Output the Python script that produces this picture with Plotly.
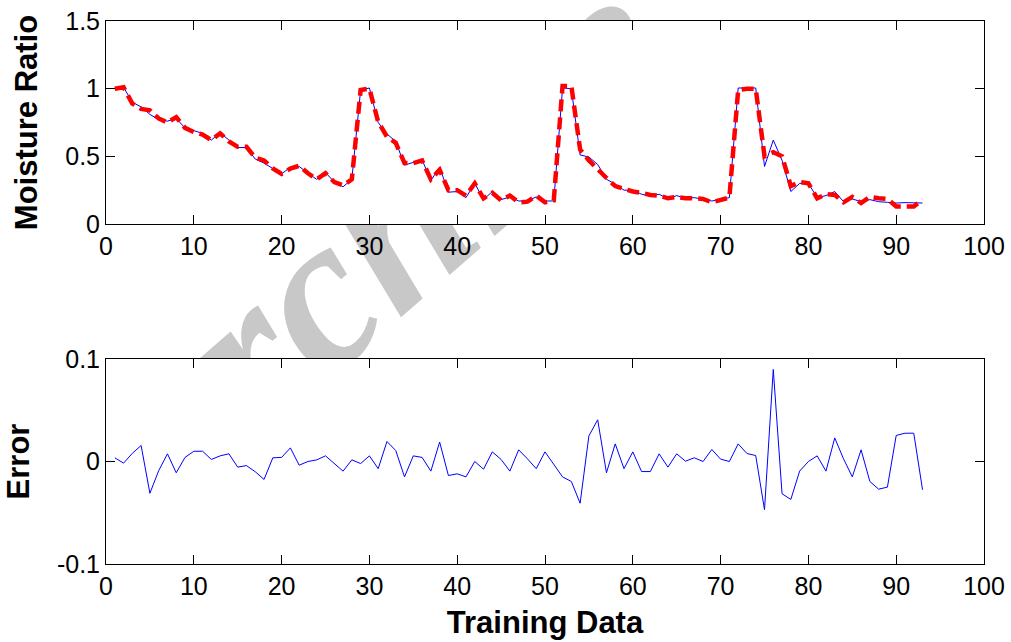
import plotly.graph_objects as go

# ---------------- data ----------------
sample = list(range(1, 94))

predicted = [1.00, 1.01, 0.89, 0.85, 0.84, 0.78, 0.75, 0.79, 0.71, 0.68,
             0.66, 0.62, 0.67, 0.61, 0.57, 0.57, 0.49, 0.47, 0.41, 0.37,
             0.41, 0.43, 0.375, 0.33, 0.375, 0.31, 0.285, 0.33, 0.99, 1.00,
             0.755, 0.645, 0.60, 0.45, 0.45, 0.47, 0.33, 0.40, 0.25, 0.25,
             0.21, 0.30, 0.19, 0.23, 0.175, 0.21, 0.16, 0.165, 0.21, 0.16,
             0.175, 1.02, 1.02, 0.55, 0.47, 0.40, 0.34, 0.28, 0.26, 0.24,
             0.23, 0.215, 0.21, 0.19, 0.20, 0.19, 0.19, 0.185, 0.16, 0.18,
             0.195, 0.99, 1.00, 1.00, 0.50, 0.53, 0.50, 0.28, 0.31, 0.30,
             0.19, 0.22, 0.215, 0.16, 0.20, 0.155, 0.20, 0.19, 0.185, 0.13,
             0.13, 0.13, 0.18]

actual = [1.00, 1.01, 0.90, 0.865, 0.81, 0.77, 0.76, 0.78, 0.71, 0.69,
          0.67, 0.62, 0.675, 0.62, 0.565, 0.565, 0.48, 0.45, 0.41, 0.37,
          0.42, 0.425, 0.375, 0.33, 0.38, 0.31, 0.275, 0.33, 0.99, 1.005,
          0.75, 0.665, 0.61, 0.435, 0.455, 0.475, 0.32, 0.42, 0.235, 0.24,
          0.195, 0.30, 0.18, 0.24, 0.18, 0.20, 0.17, 0.17, 0.20, 0.17,
          0.17, 1.005, 1.00, 0.51, 0.495, 0.44, 0.33, 0.295, 0.25, 0.25,
          0.22, 0.205, 0.22, 0.185, 0.21, 0.19, 0.195, 0.185, 0.17, 0.18,
          0.195, 1.005, 1.005, 1.005, 0.425, 0.62, 0.47, 0.24, 0.30, 0.30,
          0.195, 0.21, 0.24, 0.165, 0.185, 0.165, 0.18, 0.165, 0.16, 0.155,
          0.158, 0.158, 0.155]

error = [0.0036, -0.0016, 0.008, 0.0156, -0.031, -0.009, 0.0075, -0.011, 0.004, 0.010,
         0.010, 0.002, 0.0055, 0.0075, -0.0055, -0.004, -0.010, -0.0175, 0.0036, 0.004,
         0.0133, -0.0036, 0.0, 0.0016, 0.0055, -0.0023, -0.0094, 0.0016, -0.002, 0.0055,
         -0.007, 0.0195, 0.0107, -0.015, 0.0055, 0.004, -0.0094, 0.019, -0.0137, -0.012,
         -0.015, 0.0, -0.0075, 0.0094, 0.002, -0.0094, 0.0114, 0.0026, -0.007, 0.0094,
         -0.003, -0.015, -0.0195, -0.0407, 0.025, 0.0407, -0.011, 0.0172, -0.007, 0.0094,
         -0.0098, -0.0098, 0.0075, -0.0055, 0.0075, 0.0003, 0.0036, 0.0, 0.0117, 0.0023,
         0.0, 0.0172, 0.0078, 0.0058, -0.047, 0.0898, -0.0315, -0.037, -0.0094, 0.0,
         0.0055, -0.0094, 0.023, 0.0026, -0.015, 0.0114, -0.0195, -0.027, -0.025, 0.0254,
         0.0276, 0.0276, -0.0276]

x_ticks = [0, 10, 20, 30, 40, 50, 60, 70, 80, 90, 100]
top_y_ticks = [0, 0.5, 1, 1.5]
top_y_labels = ["0", "0.5", "1", "1.5"]
bot_y_ticks = [-0.1, 0, 0.1]
bot_y_labels = ["-0.1", "0", "0.1"]

# ---------------- figure ----------------
W, H = 1011, 642
ML, MR, MT, MB = 106, 27, 21, 78
plot_w = W - ML - MR
plot_h = H - MT - MB
top_dom = [(564 - 224) / plot_h, 1.0]
bot_dom = [0.0, (564 - 359) / plot_h]

fig = go.Figure()
fig.add_trace(go.Scatter(x=sample, y=actual, mode="lines",
                         line=dict(color="#0000ff", width=1),
                         xaxis="x", yaxis="y", showlegend=False))
fig.add_trace(go.Scatter(x=sample, y=predicted, mode="lines",
                         line=dict(color="#ff0000", width=4.5, dash="12px,6px"),
                         xaxis="x", yaxis="y", showlegend=False))
fig.add_trace(go.Scatter(x=sample, y=error, mode="lines",
                         line=dict(color="#0000ff", width=1),
                         xaxis="x2", yaxis="y2", showlegend=False))

tick_font = dict(family="Liberation Sans, Arial", size=25, color="black")
title_font = dict(family="Liberation Sans, Arial", size=31, color="black", weight="bold")

axis_common = dict(showline=True, linecolor="black", linewidth=1, mirror="ticks",
                   ticks="inside", ticklen=9, tickcolor="black", tickwidth=1,
                   showgrid=False, zeroline=False, tickfont=tick_font, automargin=False)

fig.update_layout(
    width=W, height=H, autosize=False,
    margin=dict(l=ML, r=MR, t=MT, b=MB, pad=0, autoexpand=False),
    paper_bgcolor="white", plot_bgcolor="rgba(0,0,0,0)",
    xaxis=dict(domain=[0, 1], range=[0, 100], tickvals=x_ticks, anchor="y", **axis_common),
    yaxis=dict(domain=top_dom, range=[0, 1.5], tickvals=top_y_ticks, ticktext=top_y_labels,
               anchor="x",
               title=dict(text="Moisture Ratio", font=title_font, standoff=18), **axis_common),
    xaxis2=dict(domain=[0, 1], range=[0, 100], tickvals=x_ticks, anchor="y2",
                title=dict(text="Training Data", font=title_font, standoff=12), **axis_common),
    yaxis2=dict(domain=bot_dom, range=[-0.1, 0.1], tickvals=bot_y_ticks, ticktext=bot_y_labels,
                anchor="x2",
                title=dict(text="Error", font=title_font, standoff=18), **axis_common),
)

# watermark (behind the white axes areas)
cx, cy = (352 - ML) / plot_w, (564 - 230) / plot_h
shapes = [
    dict(type="rect", xref="paper", yref="paper", x0=cx - 0.005, x1=cx + 0.005,
         y0=cy - 0.005, y1=cy + 0.005, line=dict(width=0), fillcolor="rgba(0,0,0,0)",
         layer="below",
         label=dict(text="Archive", textangle=-41, textposition="middle center",
                    font=dict(family="Liberation Serif", size=220, color="#c8c8c8",
                              weight="bold", style="italic"))),
    dict(type="rect", xref="paper", yref="paper", x0=0, x1=1, y0=top_dom[0], y1=1,
         line=dict(width=0), fillcolor="white", layer="below"),
    dict(type="rect", xref="paper", yref="paper", x0=0, x1=1, y0=0, y1=bot_dom[1],
         line=dict(width=0), fillcolor="white", layer="below"),
]
fig.update_layout(shapes=shapes)

fig.write_html("out.html", config={"displayModeBar": False},
               post_script="document.body.style.margin='0px';document.body.style.padding='0px';")
